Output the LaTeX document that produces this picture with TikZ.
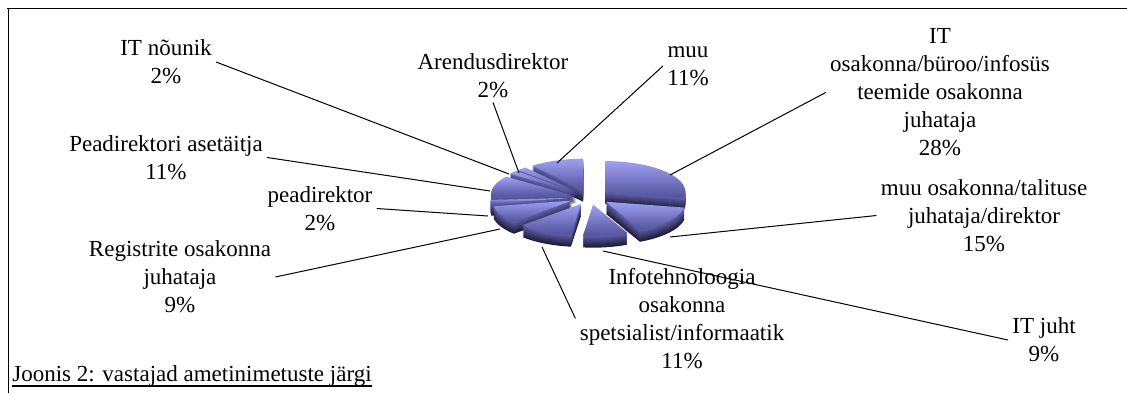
\documentclass[tikz,border=0pt]{standalone}
\usepackage{fontspec}
\setmainfont{Liberation Serif}
\usetikzlibrary{calc}
\definecolor{pietop}{RGB}{158,160,242}
\definecolor{piebot}{RGB}{82,82,156}
\definecolor{sidetop}{RGB}{100,100,176}
\definecolor{sidebot}{RGB}{28,28,58}
% one exploded 3d slice: (start angle:end angle)
\def\pieslice(#1:#2){%
	\pgfmathsetmacro\sliceMid{(#1+#2)/2}
	\coordinate (apex) at ($(590,196)+({20*cos(\sliceMid)},{7.75*sin(\sliceMid)})$);
	\foreach \i in {12,...,1}{
		\pgfmathtruncatemacro\sideP{100-100*\i/12}
		\fill[sidetop!\sideP!sidebot] ($(apex)+(0,-\i)$) -- ++(#1:80 and 31) arc[start angle=#1, end angle=#2, x radius=80, y radius=31] -- cycle;
	}
	\shade[top color=pietop, bottom color=piebot] (apex) -- ++(#1:80 and 31) arc[start angle=#1, end angle=#2, x radius=80, y radius=31] -- cycle;
}
\begin{document}
\begin{tikzpicture}[x=0.5pt, y=0.5pt,
		lbl/.style={align=center, inner sep=2pt, font=\fontsize{11.5}{14}\selectfont},
		leader/.style={line width=0.5pt}]
		\useasboundingbox (0,0) rectangle (1127,393);
		%%%%% START %%%%%
		
		\draw[line width=0.8pt] (7,384.5) -- (1127,384.5);
		\draw[line width=0.8pt] (8.5,384.5) -- (8.5,0);
		
		% slices, back to front
		\pieslice(-230.4:-270)
		\pieslice(-223.2:-230.4)
		\pieslice(90:-10.8)
		\pieslice(-216:-223.2)
		\pieslice(-176.4:-216)
		\pieslice(-169.2:-176.4)
		\pieslice(-136.8:-169.2)
		\pieslice(-10.8:-64.8)
		\pieslice(-97.2:-136.8)
		\pieslice(-64.8:-97.2)
		
		% leader ends on the pie
		\coordinate (e-itnounik) at (509,219);
		\coordinate (e-asetaitja) at (490,202);
		\coordinate (e-peadir) at (488,177);
		\coordinate (e-registrite) at (500,164);
		\coordinate (e-infotehn) at (542,146);
		\coordinate (e-itjuht) at (603,142);
		\coordinate (e-muuosak) at (670,156);
		\coordinate (e-itosak) at (670,218);
		\coordinate (e-muu) at (557,230);
		\coordinate (e-arendus) at (519,220);
		
		\node[lbl] (itnounik) at (166,331) {IT nõunik\\2\%};
		\node[lbl] (asetaitja) at (166,235.5) {Peadirektori asetäitja\\11\%};
		\node[lbl] (peadir) at (320,184.5) {peadirektor\\2\%};
		\node[lbl] (registrite) at (180,116) {Registrite osakonna\\juhataja\\9\%};
		\node[lbl] (arendus) at (493,317) {Arendusdirektor\\2\%};
		\node[lbl] (muu) at (688,327) {muu\\11\%};
		\node[lbl] (itosak) at (940,300.5) {IT\\osakonna/büroo/infosüs\\teemide osakonna\\juhataja\\28\%};
		\node[lbl] (muuosak) at (984,177.5) {muu osakonna/talituse\\juhataja/direktor\\15\%};
		\node[lbl] (infotehn) at (682,74.5) {Infotehnoloogia\\osakonna\\spetsialist/informaatik\\11\%};
		\node[lbl] (itjuht) at (1044,53) {IT juht\\9\%};
		
		\draw[leader] (itnounik.east) -- (e-itnounik);
		\draw[leader] (asetaitja.east) -- (e-asetaitja);
		\draw[leader] (peadir.east) -- (e-peadir);
		\draw[leader] (registrite.east) -- (e-registrite);
		\draw[leader] (arendus.south) -- (e-arendus);
		\draw[leader] (muu.west) -- (e-muu);
		\draw[leader] (itosak.west) -- (e-itosak);
		\draw[leader] (muuosak.west) -- (e-muuosak);
		\draw[leader] (infotehn.west) -- (e-infotehn);
		\draw[leader] (itjuht.west) -- (e-itjuht);
		
		\node[anchor=base west, inner sep=0pt, font=\fontsize{11.5}{14}\selectfont] (caption) at (12,12) {Joonis 2: vastajad ametinimetuste järgi};
		\draw[line width=0.9pt] ([yshift=-2.6pt]caption.base west) -- ([yshift=-2.6pt]caption.base east);
		
		%%%%% END %%%%%
	\end{tikzpicture}
\end{document}
